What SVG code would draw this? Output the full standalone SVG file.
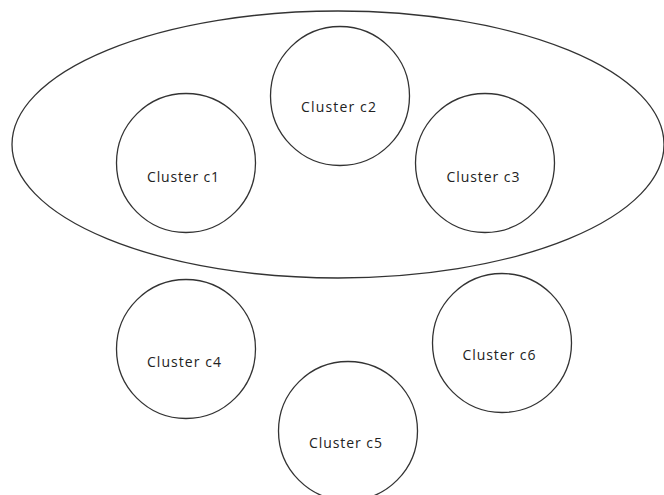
<svg xmlns="http://www.w3.org/2000/svg" width="664" height="495" viewBox="0 0 664 495">
<style>
.n{fill:none;stroke:#333;stroke-width:1.3}
.t{font-family:"Open Sans","Liberation Sans",sans-serif;font-size:14px;fill:#222;text-anchor:middle}
</style>
<rect width="664" height="495" fill="#fff"/>
<g id="group1"><ellipse class="n" cx="338" cy="144.5" rx="326" ry="133.5"/></g>
<g id="c1"><circle class="n" cx="186" cy="163" r="69.5"/><text class="t" x="183" y="181.5" textLength="72" lengthAdjust="spacing">Cluster c1</text></g>
<g id="c2"><circle class="n" cx="340" cy="96" r="69.5"/><text class="t" x="338.5" y="112" textLength="75" lengthAdjust="spacing">Cluster c2</text></g>
<g id="c3"><circle class="n" cx="485" cy="163" r="69.5"/><text class="t" x="483" y="181.5" textLength="73" lengthAdjust="spacing">Cluster c3</text></g>
<g id="c4"><circle class="n" cx="186" cy="349" r="69.5"/><text class="t" x="184" y="366.5" textLength="74" lengthAdjust="spacing">Cluster c4</text></g>
<g id="c5"><circle class="n" cx="348" cy="431" r="69.5"/><text class="t" x="345.5" y="448" textLength="73" lengthAdjust="spacing">Cluster c5</text></g>
<g id="c6"><circle class="n" cx="502" cy="343" r="69.5"/><text class="t" x="499" y="360" textLength="73" lengthAdjust="spacing">Cluster c6</text></g>
<g id="connectors"></g>
</svg>
